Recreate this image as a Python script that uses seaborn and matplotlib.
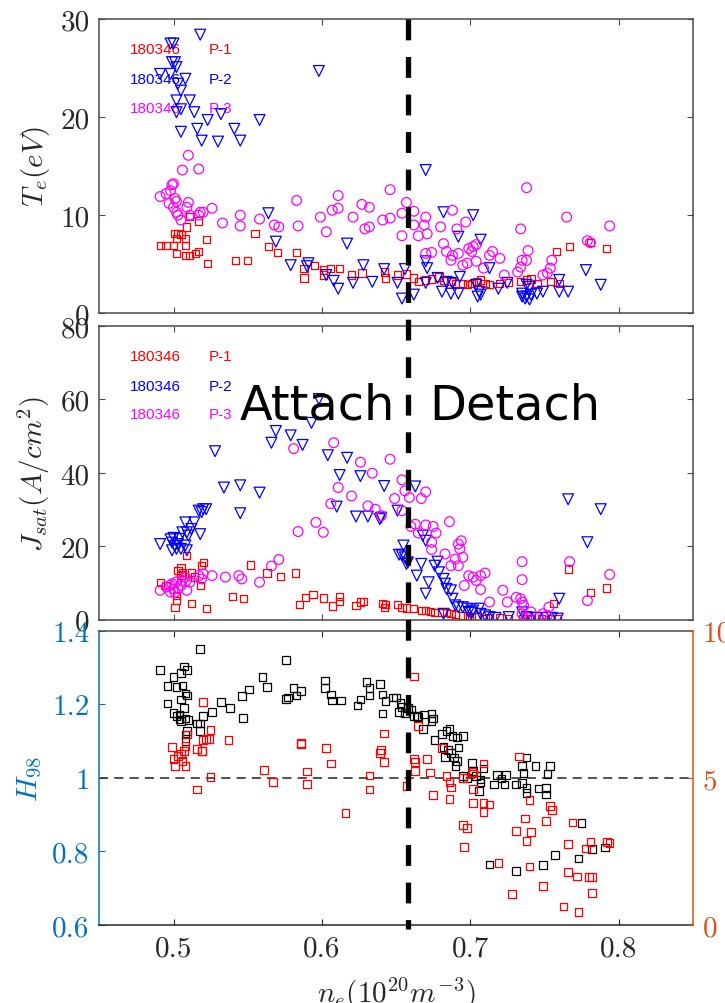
import matplotlib
matplotlib.use("Agg")
import matplotlib.pyplot as plt
import seaborn as sns
from matplotlib.lines import Line2D
from matplotlib import transforms

# ---------------- data ----------------
shot = "180346"
probe_names = ["P-1", "P-2", "P-3"]
detach_ne = 0.658          # attach / detach boundary density
h98_ref = 1.0

xticks = [0.5, 0.6, 0.7, 0.8]
xtick_labels = ["0.5", "0.6", "0.7", "0.8"]
te_ticks = [0, 10, 20, 30]
js_ticks = [0, 20, 40, 60, 80]
h98_ticks = [0.6, 0.8, 1.0, 1.2, 1.4]
h98_tick_labels = ["0.6", "0.8", "1", "1.2", "1.4"]
right_ticks = [0, 5, 10]

# Te (eV) vs ne, probe P-1 (squares)
te_p1 = [(0.491, 6.9), (0.495, 6.9), (0.501, 8.1), (0.503, 8.1), (0.505, 8.0), (0.502, 7.6), (0.500, 6.9),
         (0.502, 6.1), (0.509, 8.8), (0.511, 9.9), (0.508, 7.6), (0.508, 6.9), (0.508, 5.9), (0.511, 5.9),
         (0.515, 6.1), (0.517, 6.3), (0.517, 9.4), (0.522, 7.5), (0.523, 5.1), (0.542, 5.4), (0.550, 5.4),
         (0.555, 8.1), (0.564, 6.8), (0.570, 6.2), (0.583, 6.2), (0.588, 4.6), (0.588, 3.6), (0.595, 4.9),
         (0.601, 4.4), (0.606, 4.6), (0.612, 4.6), (0.601, 3.9), (0.620, 3.9), (0.627, 4.1), (0.642, 4.2),
         (0.643, 3.6), (0.651, 3.9), (0.657, 4.0), (0.662, 3.6), (0.665, 3.2), (0.670, 3.4), (0.674, 3.5),
         (0.679, 3.7), (0.682, 3.3), (0.687, 3.2), (0.690, 3.0), (0.695, 3.0), (0.698, 2.9), (0.701, 3.0),
         (0.704, 3.2), (0.707, 3.4), (0.710, 3.0), (0.713, 2.9), (0.720, 3.0), (0.726, 3.1), (0.734, 3.2),
         (0.738, 3.4), (0.741, 3.5), (0.745, 3.0), (0.754, 3.2), (0.758, 6.3), (0.760, 3.0), (0.767, 6.8),
         (0.781, 7.2), (0.792, 6.6)]
# Te, probe P-2 (triangles)
te_p2 = [(0.498, 27.5), (0.500, 27.5), (0.518, 28.4), (0.499, 25.6), (0.501, 25.6), (0.491, 24.4), (0.498, 24.4),
         (0.502, 25.1), (0.508, 23.9), (0.503, 23.4), (0.505, 22.7), (0.502, 21.7), (0.511, 21.7), (0.505, 20.8),
         (0.514, 20.5), (0.502, 20.5), (0.523, 19.7), (0.532, 20.3), (0.516, 18.8), (0.505, 18.5), (0.541, 18.8),
         (0.558, 19.7), (0.519, 17.6), (0.530, 17.5), (0.545, 17.6), (0.598, 24.7), (0.670, 14.6), (0.564, 10.2),
         (0.569, 7.3), (0.617, 7.1), (0.682, 10.3), (0.702, 10.0), (0.707, 7.5), (0.692, 7.8), (0.579, 4.9),
         (0.591, 5.1), (0.590, 4.8), (0.603, 3.9), (0.608, 3.3), (0.611, 2.5), (0.621, 3.1), (0.628, 4.9),
         (0.634, 3.2), (0.642, 4.5), (0.651, 3.1), (0.656, 4.5), (0.654, 1.5), (0.662, 1.9), (0.670, 5.3),
         (0.671, 4.6), (0.670, 3.1), (0.678, 3.6), (0.681, 2.2), (0.687, 2.0), (0.692, 2.0), (0.684, 3.2),
         (0.688, 3.1), (0.693, 3.7), (0.704, 2.9), (0.706, 2.2), (0.707, 1.9), (0.705, 1.7), (0.713, 4.6),
         (0.719, 2.5), (0.725, 3.1), (0.735, 2.0), (0.738, 1.7), (0.740, 1.4), (0.741, 1.9), (0.745, 2.0),
         (0.749, 2.2), (0.738, 2.9), (0.740, 2.7), (0.735, 1.7), (0.737, 1.5), (0.760, 3.4), (0.760, 2.2),
         (0.766, 2.2), (0.778, 4.4), (0.788, 2.9)]
# Te, probe P-3 (circles)
te_p3 = [(0.491, 11.9), (0.495, 12.2), (0.499, 13.1), (0.500, 13.2), (0.498, 12.5), (0.497, 11.2), (0.502, 11.4),
         (0.500, 10.8), (0.501, 11.7), (0.502, 10.3), (0.503, 10.0), (0.505, 9.5), (0.510, 16.1), (0.506, 14.6),
         (0.517, 14.7), (0.510, 11.3), (0.509, 10.8), (0.511, 10.0), (0.518, 10.3), (0.520, 10.3), (0.517, 10.0),
         (0.526, 10.7), (0.533, 9.2), (0.545, 10.0), (0.545, 8.9), (0.558, 9.6), (0.568, 9.0), (0.571, 8.8),
         (0.583, 11.5), (0.584, 8.9), (0.599, 9.8), (0.603, 8.3), (0.607, 10.5), (0.611, 10.7), (0.611, 12.0),
         (0.621, 9.8), (0.627, 11.1), (0.632, 10.8), (0.629, 8.6), (0.632, 8.8), (0.641, 9.5), (0.646, 9.7),
         (0.646, 12.6), (0.654, 10.2), (0.657, 11.3), (0.654, 7.9), (0.662, 10.4), (0.662, 9.0), (0.665, 7.9),
         (0.670, 9.8), (0.669, 9.0), (0.671, 8.1), (0.680, 8.8), (0.682, 7.1), (0.670, 6.1), (0.674, 6.2),
         (0.688, 10.5), (0.691, 8.6), (0.684, 6.3), (0.687, 5.4), (0.688, 5.9), (0.692, 6.1), (0.695, 4.9),
         (0.698, 5.1), (0.697, 9.3), (0.699, 6.6), (0.702, 6.8), (0.704, 7.0), (0.701, 6.3), (0.704, 5.3),
         (0.709, 4.6), (0.713, 5.9), (0.715, 6.3), (0.720, 5.6), (0.723, 3.9), (0.732, 4.2), (0.734, 4.7),
         (0.735, 5.4), (0.734, 8.6), (0.738, 12.8), (0.739, 6.4), (0.738, 5.4), (0.749, 3.9), (0.752, 4.1),
         (0.754, 4.6), (0.755, 5.4), (0.765, 9.8), (0.779, 7.4), (0.781, 7.2), (0.794, 8.9)]

# Jsat (A/cm^2) vs ne, probe P-1 (squares)
js_p1 = [(0.491, 10.2), (0.495, 9.3), (0.501, 3.4), (0.502, 5.2), (0.502, 6.6), (0.503, 13.4), (0.505, 14.3),
         (0.505, 12.0), (0.506, 12.9), (0.509, 17.5), (0.512, 4.3), (0.512, 12.9), (0.514, 11.6), (0.518, 9.3),
         (0.519, 14.7), (0.520, 15.6), (0.522, 3.0), (0.540, 6.4), (0.547, 5.7), (0.552, 14.9), (0.563, 12.7),
         (0.572, 11.8), (0.582, 12.7), (0.585, 4.1), (0.589, 6.1), (0.594, 6.8), (0.601, 5.9), (0.607, 3.7),
         (0.612, 6.4), (0.612, 5.0), (0.623, 3.9), (0.626, 4.8), (0.628, 5.0), (0.641, 4.3), (0.642, 3.4),
         (0.643, 4.1), (0.651, 4.1), (0.654, 3.4), (0.657, 3.2), (0.662, 3.0), (0.667, 2.5), (0.670, 2.5),
         (0.673, 2.2), (0.676, 1.9), (0.681, 2.0), (0.684, 1.9), (0.687, 1.6), (0.690, 1.4), (0.695, 1.2),
         (0.698, 1.0), (0.701, 0.7), (0.704, 0.7), (0.710, 0.3), (0.713, 0.5), (0.720, 0.5), (0.726, 0.3),
         (0.735, 0.3), (0.741, 0.3), (0.748, 0.3), (0.754, 0.3), (0.759, 0.3), (0.756, 4.3), (0.766, 13.8),
         (0.781, 7.3), (0.792, 8.6)]
# Jsat, probe P-2 (triangles)
js_p2 = [(0.491, 20.6), (0.498, 21.9), (0.499, 21.0), (0.500, 22.3), (0.501, 20.1), (0.503, 20.6), (0.504, 22.0),
         (0.499, 18.9), (0.502, 19.3), (0.505, 19.3), (0.508, 20.2), (0.509, 18.9), (0.506, 23.8), (0.508, 26.5),
         (0.509, 23.8), (0.510, 22.9), (0.512, 24.7), (0.514, 26.5), (0.517, 29.7), (0.519, 29.3), (0.520, 30.1),
         (0.518, 23.3), (0.522, 30.1), (0.528, 45.9), (0.534, 36.0), (0.545, 36.6), (0.545, 29.0), (0.558, 34.6),
         (0.566, 48.2), (0.569, 51.4), (0.579, 50.2), (0.587, 47.6), (0.593, 53.6), (0.598, 60.1), (0.604, 44.8),
         (0.612, 39.4), (0.610, 30.8), (0.617, 44.1), (0.623, 28.1), (0.631, 28.1), (0.639, 27.4), (0.640, 27.8),
         (0.626, 39.1), (0.642, 36.4), (0.651, 29.7), (0.652, 17.7), (0.654, 17.5), (0.656, 17.0), (0.655, 20.2),
         (0.658, 15.6), (0.657, 15.2), (0.663, 36.3), (0.667, 15.2), (0.668, 22.9), (0.670, 21.5), (0.664, 12.0),
         (0.670, 7.1), (0.672, 10.2), (0.678, 15.8), (0.676, 14.7), (0.679, 12.9), (0.682, 11.1), (0.683, 9.8),
         (0.684, 8.4), (0.687, 8.0), (0.688, 5.7), (0.690, 3.9), (0.692, 3.4), (0.695, 3.4), (0.698, 3.0),
         (0.699, 2.1), (0.701, 1.9), (0.702, 2.5), (0.706, 3.0), (0.707, 1.6), (0.710, 1.2), (0.713, 0.7),
         (0.717, 0.5), (0.726, 0.7), (0.682, 1.6), (0.735, 2.0), (0.738, 0.7), (0.741, 0.5), (0.745, 0.5),
         (0.751, 0.5), (0.755, 0.5), (0.759, 0.3), (0.760, 5.7), (0.766, 32.8), (0.779, 21.1), (0.788, 30.1)]
# Jsat, probe P-3 (circles)
js_p3 = [(0.491, 8.0), (0.495, 8.9), (0.498, 9.4), (0.499, 9.8), (0.502, 10.3), (0.500, 8.4), (0.503, 8.4),
         (0.505, 9.3), (0.506, 10.7), (0.508, 10.3), (0.509, 8.0), (0.501, 7.5), (0.498, 7.5), (0.508, 11.6),
         (0.511, 10.2), (0.517, 12.0), (0.519, 11.1), (0.520, 12.5), (0.526, 12.0), (0.535, 11.6), (0.544, 12.0),
         (0.546, 11.1), (0.558, 10.2), (0.566, 14.6), (0.571, 16.4), (0.581, 46.6), (0.584, 24.0), (0.596, 26.5),
         (0.601, 23.8), (0.606, 31.6), (0.608, 48.2), (0.611, 36.0), (0.620, 33.7), (0.626, 42.9), (0.631, 31.0),
         (0.636, 30.1), (0.640, 28.3), (0.634, 39.9), (0.646, 43.7), (0.649, 33.0), (0.654, 38.1), (0.656, 35.1),
         (0.659, 33.3), (0.654, 29.7), (0.660, 25.4), (0.663, 26.0), (0.665, 23.6), (0.667, 33.0), (0.670, 34.8),
         (0.670, 25.8), (0.675, 25.4), (0.677, 23.6), (0.674, 21.1), (0.674, 19.1), (0.683, 17.9), (0.686, 26.7),
         (0.687, 14.7), (0.690, 16.5), (0.692, 20.6), (0.694, 21.5), (0.693, 19.3), (0.695, 17.0), (0.692, 14.7),
         (0.696, 9.3), (0.699, 12.0), (0.702, 11.6), (0.704, 10.7), (0.707, 12.0), (0.710, 12.7), (0.707, 8.2),
         (0.713, 4.8), (0.722, 8.0), (0.725, 4.8), (0.731, 6.1), (0.734, 5.7), (0.735, 4.8), (0.736, 3.9),
         (0.735, 15.8), (0.735, 10.9), (0.735, 1.6), (0.738, 0.7), (0.741, 2.1), (0.749, 1.6), (0.752, 1.2),
         (0.753, 3.4), (0.767, 15.8), (0.779, 5.2), (0.794, 12.3)]

# H98 (left axis, black squares)
h98 = [(0.491, 1.293), (0.496, 1.249), (0.496, 1.202), (0.500, 1.274), (0.502, 1.247), (0.500, 1.177),
       (0.502, 1.168), (0.504, 1.159), (0.505, 1.285), (0.507, 1.303), (0.509, 1.293), (0.506, 1.251),
       (0.508, 1.229), (0.505, 1.213), (0.507, 1.190), (0.509, 1.224), (0.504, 1.172), (0.505, 1.154),
       (0.508, 1.161), (0.510, 1.157), (0.508, 1.118), (0.508, 1.100), (0.509, 1.127), (0.516, 1.148),
       (0.518, 1.148), (0.518, 1.127), (0.519, 1.073), (0.518, 1.350), (0.520, 1.168), (0.526, 1.179),
       (0.532, 1.206), (0.538, 1.190), (0.546, 1.222), (0.547, 1.163), (0.551, 1.240), (0.560, 1.274),
       (0.563, 1.247), (0.576, 1.320), (0.576, 1.215), (0.577, 1.218), (0.581, 1.245), (0.583, 1.224),
       (0.586, 1.236), (0.602, 1.265), (0.602, 1.245), (0.606, 1.227), (0.607, 1.210), (0.613, 1.210),
       (0.624, 1.197), (0.626, 1.213), (0.630, 1.260), (0.632, 1.245), (0.632, 1.224), (0.639, 1.256),
       (0.641, 1.227), (0.641, 1.175), (0.643, 1.209), (0.648, 1.218), (0.650, 1.218), (0.653, 1.204),
       (0.652, 1.179), (0.654, 1.193), (0.656, 1.177), (0.658, 1.190), (0.660, 1.186), (0.662, 1.168),
       (0.664, 1.168), (0.665, 1.166), (0.668, 1.132), (0.669, 1.172), (0.674, 1.175), (0.675, 1.161),
       (0.674, 1.154), (0.676, 1.103), (0.681, 1.119), (0.684, 1.128), (0.686, 1.132), (0.688, 1.114),
       (0.682, 1.084), (0.683, 1.057), (0.685, 1.075), (0.691, 1.110), (0.692, 1.083), (0.695, 1.113),
       (0.687, 1.068), (0.689, 1.055), (0.691, 1.046), (0.690, 1.032), (0.701, 1.041), (0.702, 1.019),
       (0.704, 1.005), (0.695, 1.005), (0.698, 1.000), (0.707, 0.996), (0.707, 0.987), (0.706, 0.964),
       (0.709, 1.025), (0.716, 0.982), (0.718, 1.007), (0.721, 0.998), (0.724, 1.007), (0.723, 0.982),
       (0.731, 0.982), (0.735, 0.986), (0.738, 0.972), (0.738, 0.958), (0.735, 1.032), (0.736, 1.014),
       (0.738, 1.055), (0.744, 1.032), (0.746, 0.971), (0.751, 0.973), (0.751, 0.955), (0.752, 1.010),
       (0.754, 1.032), (0.775, 0.877), (0.713, 0.764), (0.731, 0.747), (0.749, 0.763), (0.757, 0.790),
       (0.773, 0.781), (0.782, 0.806), (0.791, 0.811)]
# right-axis quantity (red squares, 0-10 scale)
right_vals = [(0.499, 6.05), (0.501, 5.40), (0.500, 5.65), (0.503, 5.74), (0.505, 5.80), (0.506, 5.57),
              (0.507, 5.91), (0.508, 5.40), (0.508, 6.08), (0.509, 6.47), (0.520, 7.57), (0.520, 6.28),
              (0.522, 6.31), (0.524, 6.31), (0.516, 5.99), (0.519, 5.91), (0.525, 6.62), (0.525, 5.03),
              (0.516, 4.61), (0.537, 6.28), (0.561, 5.27), (0.567, 4.86), (0.586, 6.14), (0.586, 6.19),
              (0.590, 5.22), (0.590, 4.80), (0.603, 6.02), (0.606, 5.49), (0.616, 3.80), (0.632, 5.08),
              (0.632, 4.61), (0.639, 5.85), (0.640, 5.94), (0.642, 5.54), (0.642, 6.51), (0.657, 4.72),
              (0.662, 8.45), (0.662, 5.63), (0.663, 5.54), (0.663, 5.23), (0.665, 6.76), (0.671, 5.63),
              (0.673, 5.18), (0.675, 4.41), (0.681, 6.02), (0.684, 5.06), (0.686, 4.86), (0.687, 4.67),
              (0.686, 4.29), (0.695, 5.00), (0.695, 3.39), (0.698, 3.30), (0.696, 2.66), (0.701, 5.20),
              (0.702, 5.15), (0.702, 4.63), (0.702, 4.14), (0.709, 5.49), (0.709, 4.14), (0.709, 3.84),
              (0.713, 4.09), (0.719, 2.10), (0.728, 1.05), (0.731, 3.20), (0.733, 5.72), (0.737, 3.62),
              (0.738, 2.86), (0.741, 3.16), (0.740, 4.25), (0.740, 1.99), (0.749, 1.33), (0.751, 3.54),
              (0.754, 4.05), (0.755, 3.91), (0.763, 0.63), (0.766, 2.75), (0.766, 1.81), (0.769, 3.48),
              (0.772, 1.65), (0.773, 0.45), (0.778, 2.60), (0.780, 1.64), (0.782, 1.62), (0.782, 1.08),
              (0.781, 2.82), (0.792, 2.82), (0.794, 2.78)]

# ---------------- style ----------------
sns.set_theme(style="white")
plt.rcParams["font.family"] = ["DejaVu Sans"]
plt.rcParams["mathtext.fontset"] = "cm"
plt.rcParams["axes.unicode_minus"] = False

RED, BLUE, MAG = "#FF0000", "#0000FF", "#FF00FF"
MBLUE, MORANGE = "#0072BD", "#D95319"
AXC, TXC = "#4a4a4a", "#262626"
TICKFONT = dict(family="cmr10", size=21)

fig = plt.figure(figsize=(7.25, 10.04), dpi=100)
ax1 = fig.add_axes([0.1370, 0.6870, 0.8185, 0.2931])
ax2 = fig.add_axes([0.1370, 0.3818, 0.8185, 0.2925])
ax3 = fig.add_axes([0.1370, 0.0777, 0.8185, 0.2931])


def scatter(ax, data, marker, color, size):
    xs = [p[0] for p in data]
    ys = [p[1] for p in data]
    sns.scatterplot(x=xs, y=ys, ax=ax, marker=marker, s=size ** 2, color=color,
                    facecolor="none", edgecolor=color, linewidth=0.9, legend=False, zorder=2)


scatter(ax1, te_p1, "s", RED, 5.2)
scatter(ax1, te_p2, "v", BLUE, 7.8)
scatter(ax1, te_p3, "o", MAG, 7.0)
scatter(ax2, js_p1, "s", RED, 5.2)
scatter(ax2, js_p2, "v", BLUE, 7.8)
scatter(ax2, js_p3, "o", MAG, 7.0)

ax3r = ax3.twinx()
scatter(ax3, h98, "s", "black", 5.5)
scatter(ax3r, right_vals, "s", RED, 5.5)

for ax, ticks, lim in ((ax1, te_ticks, (0, 30)), (ax2, js_ticks, (0, 80))):
    ax.set_xlim(0.45, 0.85)
    ax.set_ylim(*lim)
    ax.set_xticks(xticks)
    ax.set_xticklabels([])
    ax.set_yticks(ticks)
    ax.set_yticklabels([str(t) for t in ticks], fontdict=TICKFONT, color=TXC)
    ax.tick_params(direction="in", length=4.5, width=0.8, top=True, right=True,
                   bottom=True, left=True, color=AXC, pad=7)
    for sp in ax.spines.values():
        sp.set_visible(True)
        sp.set_color(AXC)
        sp.set_linewidth(1.1)

ax1.set_ylabel(r"$T_e(eV)$", fontsize=21, color=TXC, labelpad=6)
ax2.set_ylabel(r"$J_{sat}(A/cm^2)$", fontsize=21, color=TXC, labelpad=6)

# legend-like labels
legend_rows = [(RED, probe_names[0], 0.898), (BLUE, probe_names[1], 0.797), (MAG, probe_names[2], 0.699)]
for ax in (ax1, ax2):
    for col, name, yy in legend_rows:
        ax.text(0.051, yy, shot, transform=ax.transAxes, color=col, fontsize=11,
                family="Liberation Sans", va="center", ha="left", zorder=1)
        ax.text(0.185, yy, name, transform=ax.transAxes, color=col, fontsize=11,
                family="Liberation Sans", va="center", ha="left", zorder=1)

# bottom panel
ax3.set_xlim(0.45, 0.85)
ax3.set_ylim(0.6, 1.4)
ax3r.set_ylim(0, 10)
ax3.set_xticks(xticks)
ax3.set_xticklabels(xtick_labels, fontdict=TICKFONT, color=TXC)
ax3.set_yticks(h98_ticks)
ax3.set_yticklabels(h98_tick_labels, fontdict=TICKFONT, color=MBLUE)
ax3r.set_yticks(right_ticks)
ax3r.set_yticklabels([str(t) for t in right_ticks], fontdict=TICKFONT, color=MORANGE)
ax3.tick_params(axis="x", direction="in", length=4.5, width=0.8, top=True, bottom=True,
                color=TXC, pad=7)
ax3.tick_params(axis="y", direction="in", length=4.5, width=0.8, left=True, right=False,
                color=MBLUE, pad=7)
ax3r.tick_params(axis="y", direction="in", length=4.5, width=0.8, right=True, left=False,
                 color=MORANGE, pad=7)
ax3.spines["left"].set_color(MBLUE)
ax3.spines["bottom"].set_color(TXC)
ax3.spines["top"].set_color(AXC)
ax3.spines["right"].set_visible(False)
for s in ("left", "top", "bottom"):
    ax3r.spines[s].set_visible(False)
ax3r.spines["right"].set_color(MORANGE)
for sp in list(ax3.spines.values()) + [ax3r.spines["right"]]:
    sp.set_linewidth(1.1)
ax3.axhline(h98_ref, color="#222222", lw=1.1, linestyle=(0, (6, 4)), zorder=1)
ax3.set_ylabel(r"$H_{98}$", fontsize=21, color=MBLUE, labelpad=6)
ax3.set_xlabel(r"$n_e(10^{20}m^{-3})$", fontsize=21, color=TXC, labelpad=10)

# vertical attach/detach boundary spanning all panels
trans = transforms.blended_transform_factory(ax3.transData, fig.transFigure)
vline = Line2D([detach_ne, detach_ne], [0.9801, 0.0735], transform=trans, color="black",
               lw=3.8, linestyle=(0, (3.95, 3.16)), zorder=10, dash_capstyle="butt")
fig.add_artist(vline)

fig.text(0.331, 0.5817, "Attach", fontsize=34.5, family="DejaVu Sans", color="black",
         ha="left", va="baseline", zorder=11)
fig.text(0.5917, 0.5817, "Detach", fontsize=34.5, family="DejaVu Sans", color="black",
         ha="left", va="baseline", zorder=11)

fig.savefig("out.png", dpi=100)
